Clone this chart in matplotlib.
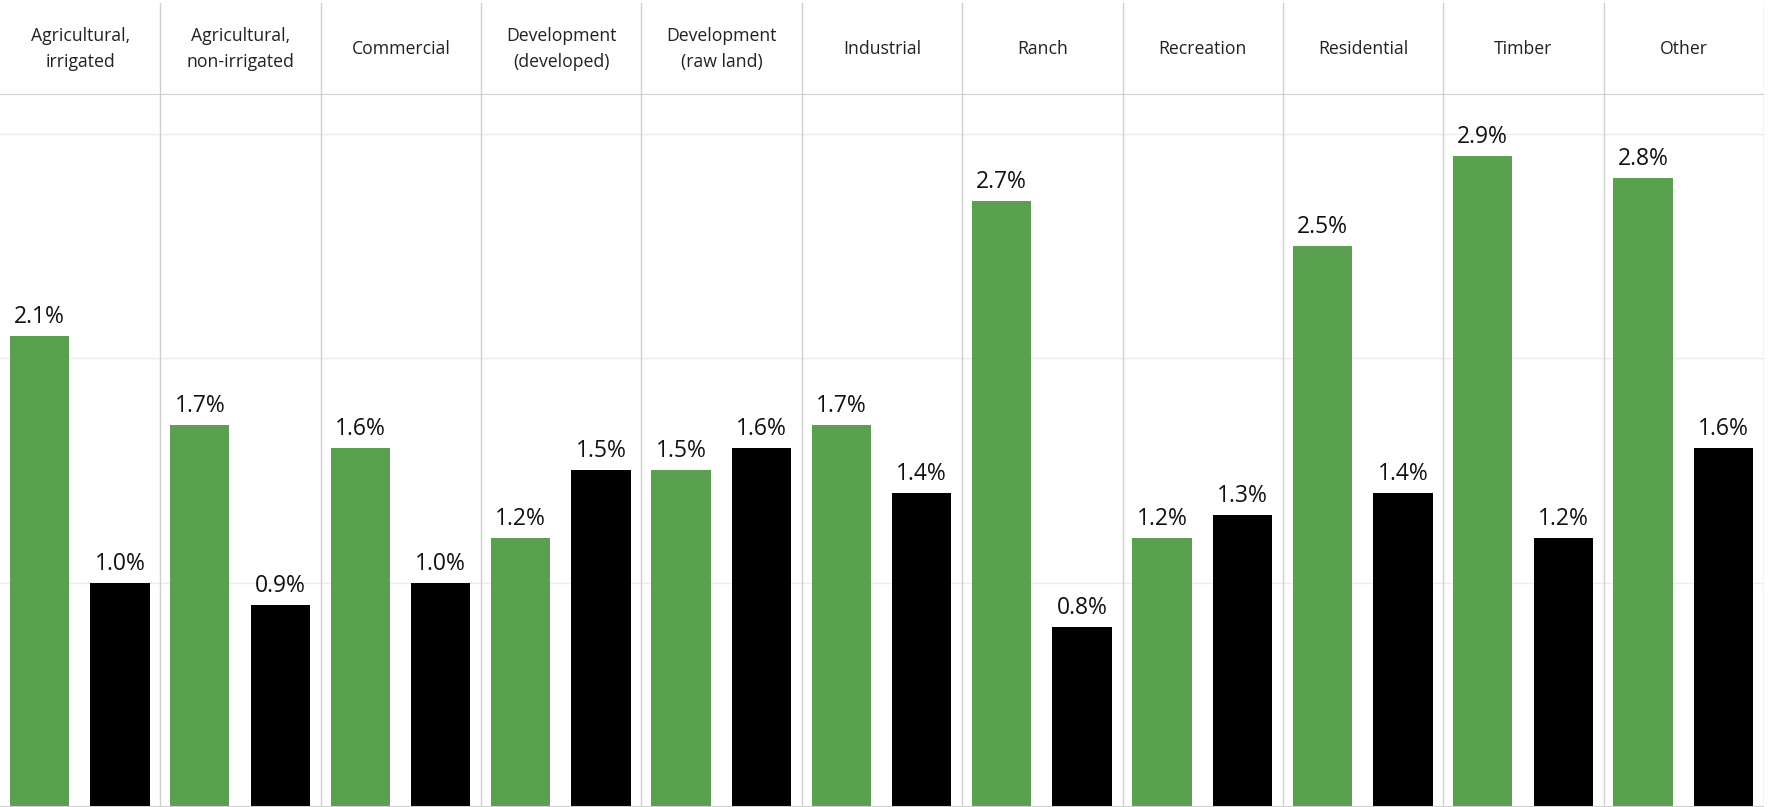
import numpy as np
import matplotlib.pyplot as plt

categories = ["Agricultural,\nirrigated", "Agricultural,\nnon-irrigated", "Commercial",
              "Development\n(developed)", "Development\n(raw land)", "Industrial", "Ranch",
              "Recreation", "Residential", "Timber", "Other"]
green_vals = [2.1, 1.7, 1.6, 1.2, 1.5, 1.7, 2.7, 1.2, 2.5, 2.9, 2.8]
black_vals = [1.0, 0.9, 1.0, 1.5, 1.6, 1.4, 0.8, 1.3, 1.4, 1.2, 1.6]

GREEN = "#59A14F"
SEP = "#cfcfcf"
GRID = "#ececec"

plt.rcParams['font.family'] = ['Open Sans', 'DejaVu Sans']

W, H = 1768, 807
fig = plt.figure(figsize=(W / 100, H / 100), dpi=100)
n = len(categories)
right = 1764 / W

# bar area
ax = fig.add_axes([0, 0, right, (H - 95) / H])
x = np.arange(n)
bw = 0.37
ax.bar(x + 0.246, green_vals, width=bw, color=GREEN, zorder=3)
ax.bar(x + 0.748, black_vals, width=bw, color="black", zorder=3)
for xi, g, b in zip(x, green_vals, black_vals):
    ax.annotate(f"{g:.1f}%", (xi + 0.246, g), xytext=(0, 5), textcoords="offset points",
                ha="center", va="bottom", fontsize=16.5, color="#111111")
    ax.annotate(f"{b:.1f}%", (xi + 0.748, b), xytext=(0, 5), textcoords="offset points",
                ha="center", va="bottom", fontsize=16.5, color="#111111")
ax.set_xlim(0, n)
ax.set_ylim(0, (H - 95) / 224.5)
for y in [1, 2, 3]:
    ax.axhline(y, color=GRID, lw=1, zorder=1)
for k in range(1, n + 1):
    ax.axvline(k, color=SEP, lw=1, zorder=2)
ax.axhline(0, color=SEP, lw=1.5, zorder=4)
for s in ax.spines.values():
    s.set_visible(False)
ax.set_xticks([])
ax.set_yticks([])

# header row with category names
hx = fig.add_axes([0, (H - 95) / H, right, 92 / H])
hx.set_xlim(0, n)
hx.set_ylim(0, 1)
for k in range(n):
    hx.text(k + 0.5, 0.5, categories[k], ha="center", va="center",
            fontsize=12.7, color="#222222", linespacing=1.55)
for k in range(1, n + 1):
    hx.axvline(k, color=SEP, lw=1)
hx.axhline(0, color=SEP, lw=1.5)
for s in hx.spines.values():
    s.set_visible(False)
hx.set_xticks([])
hx.set_yticks([])

fig.savefig("out.png", dpi=100)
